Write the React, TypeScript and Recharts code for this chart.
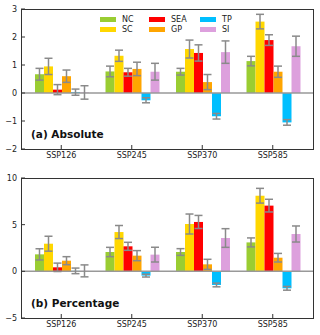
import React from 'react';
import { BarChart, Bar, XAxis, YAxis, ErrorBar, ReferenceLine } from 'recharts';

const scenarios = ['SSP126', 'SSP245', 'SSP370', 'SSP585'];
const regions = ['NC', 'SC', 'SEA', 'GP', 'TP', 'SI'];
const regionColors = ['#9acd32', '#ffd700', '#ff0000', '#ffa500', '#00bfff', '#dda0dd'];

// (a) absolute change
const absNC = [0.67, 0.77, 0.76, 1.14];
const absSC = [0.95, 1.33, 1.57, 2.55];
const absSEA = [0.12, 0.74, 1.43, 1.89];
const absGP = [0.6, 0.86, 0.39, 0.76];
const absTP = [0.03, -0.26, -0.83, -1.05];
const absSI = [0.02, 0.76, 1.46, 1.67];
const absNCErr = [0.21, 0.19, 0.12, 0.17];
const absSCErr = [0.29, 0.2, 0.32, 0.26];
const absSEAErr = [0.18, 0.14, 0.29, 0.19];
const absGPErr = [0.22, 0.24, 0.27, 0.2];
const absTPErr = [0.11, 0.09, 0.1, 0.1];
const absSIErr = [0.24, 0.3, 0.4, 0.36];

// (b) percentage change
const pctNC = [1.82, 2.07, 2.07, 3.1];
const pctSC = [2.96, 4.21, 5.07, 8.1];
const pctSEA = [0.43, 2.68, 5.29, 7.04];
const pctGP = [1.14, 1.68, 0.75, 1.46];
const pctTP = [0.05, -0.46, -1.46, -1.82];
const pctSI = [0.05, 1.79, 3.57, 4.0];
const pctNCErr = [0.6, 0.5, 0.36, 0.48];
const pctSCErr = [0.8, 0.7, 1.07, 0.79];
const pctSEAErr = [0.45, 0.43, 0.7, 0.68];
const pctGPErr = [0.43, 0.54, 0.54, 0.46];
const pctTPErr = [0.3, 0.15, 0.2, 0.2];
const pctSIErr = [0.64, 0.79, 1.0, 0.86];

const absTicks = [-2, -1, 0, 1, 2, 3];
const pctTicks = [-5, 0, 5, 10];

const buildRows = (vals: number[][], errs: number[][]) =>
  scenarios.map((name, i) => {
    const row: Record<string, number | string> = { name };
    regions.forEach((r, j) => {
      row[r] = vals[j][i];
      row[r + 'Err'] = errs[j][i];
    });
    return row;
  });

const absData = buildRows(
  [absNC, absSC, absSEA, absGP, absTP, absSI],
  [absNCErr, absSCErr, absSEAErr, absGPErr, absTPErr, absSIErr]
);
const pctData = buildRows(
  [pctNC, pctSC, pctSEA, pctGP, pctTP, pctSI],
  [pctNCErr, pctSCErr, pctSEAErr, pctGPErr, pctTPErr, pctSIErr]
);

const font = '"DejaVu Sans", sans-serif';
const tickStyle = { fill: '#222', fontSize: 8, fontFamily: font };
const frame = '#333';
const fmt = (v: number) => (v < 0 ? `\u2212${Math.abs(v)}` : `${v}`);

type PanelProps = {
  data: Record<string, number | string>[];
  ticks: number[];
  height: number;
  top: number;
};

const Panel: React.FC<PanelProps> = ({ data, ticks, height, top }) => (
  <div style={{ position: 'relative', width: 320, height }}>
    <BarChart
      width={320}
      height={height}
      data={data}
      margin={{ top, right: 7, bottom: 0, left: 0 }}
      barCategoryGap={9}
      barGap={0}
    >
      <XAxis
        dataKey="name"
        padding={{ left: 5, right: 5 }}
        tick={tickStyle}
        tickSize={-4}
        tickMargin={7}
        tickLine={{ stroke: frame }}
        axisLine={false}
        height={height - top - 140}
        interval={0}
      />
      <YAxis
        domain={[ticks[0], ticks[ticks.length - 1]]}
        ticks={ticks}
        tick={tickStyle}
        tickSize={-4}
        tickMargin={8}
        tickFormatter={fmt}
        tickLine={{ stroke: frame }}
        axisLine={false}
        width={21}
        interval={0}
      />
      <ReferenceLine y={0} stroke="#999" strokeWidth={1.5} />
      {regions.map((r, j) => (
        <Bar key={r} dataKey={r} fill={regionColors[j]} isAnimationActive={false}>
          <ErrorBar dataKey={r + 'Err'} direction="y" stroke="#8a8a8a" strokeWidth={1.5} width={4} />
        </Bar>
      ))}
    </BarChart>
    {/* plot frame */}
    <div
      style={{
        position: 'absolute',
        left: 20.5,
        top: top - 0.5,
        width: 293,
        height: 141,
        border: `1.2px solid ${frame}`,
        boxSizing: 'border-box',
        pointerEvents: 'none',
      }}
    />
  </div>
);

const Legend2: React.FC = () => (
  <div
    style={{
      position: 'absolute',
      left: 100,
      top: 14,
      display: 'grid',
      gridTemplateColumns: '49px 51px 50px',
      gridTemplateRows: '10px 10px',
      gridAutoFlow: 'column',
      fontFamily: font,
      fontSize: 8,
      color: '#222',
    }}
  >
    {regions.map((r, j) => (
      <div key={r} style={{ display: 'flex', alignItems: 'center', height: 10 }}>
        <span style={{ display: 'inline-block', width: 16, height: 5, background: regionColors[j], marginRight: 6 }} />
        <span>{r}</span>
      </div>
    ))}
  </div>
);

const labelStyle: React.CSSProperties = {
  position: 'absolute',
  left: 31,
  fontFamily: font,
  fontSize: 10.5,
  fontWeight: 'bold',
  color: '#111',
  lineHeight: '12px',
};

export default function App() {
  return (
    <div style={{ position: 'absolute', left: 0, top: 0, width: 320, height: 335, background: '#fff' }}>
      <div style={{ position: 'absolute', left: 0, top: 0 }}>
        <Panel data={absData} ticks={absTicks} height={165} top={9} />
      </div>
      <div style={{ position: 'absolute', left: 0, top: 165 }}>
        <Panel data={pctData} ticks={pctTicks} height={170} top={13} />
      </div>
      <Legend2 />
      <div style={{ ...labelStyle, top: 128 }}>(a) Absolute</div>
      <div style={{ ...labelStyle, top: 297 }}>(b) Percentage</div>
    </div>
  );
}
